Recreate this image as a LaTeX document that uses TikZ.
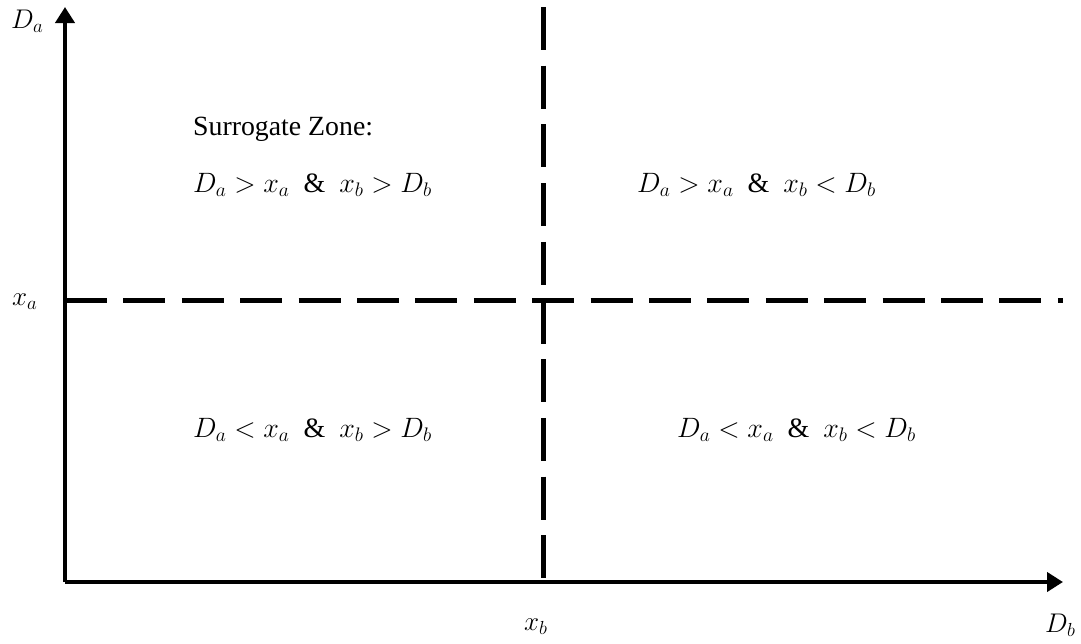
\RequirePackage{fix-cm}
\documentclass[tikz,border=0pt]{standalone}
\usepackage{fontspec}
\setmainfont{Liberation Serif}
\usetikzlibrary{arrows.meta}
\newcommand{\amp}{\ \ \mbox{\&}\ \ }
\begin{document}
\begin{tikzpicture}[x=1pt,y=-1pt,
  axis/.style={line width=4.8pt,-{Triangle[length=16pt,width=19pt]}},
  hdash/.style={line width=5pt,dash pattern=on 42pt off 16.4pt},
  vdash/.style={line width=5pt,dash pattern=on 43pt off 15.7pt},
  lbl/.style={inner sep=0pt,anchor=base west,font=\fontsize{27pt}{31pt}\selectfont},
  zone/.style={inner sep=0pt,anchor=base west,font=\fontsize{28pt}{32pt}\selectfont},
  title/.style={inner sep=0pt,anchor=base west,font=\fontsize{27.8pt}{32pt}\selectfont}]
\useasboundingbox (0,0) rectangle (1081,643);
\coordinate (O) at (65,582);
\coordinate (ytop) at (65,7);
\coordinate (xend) at (1063,582);
\coordinate (hl) at (65,300);
\coordinate (hr) at (1063,300);
\coordinate (vt) at (543,7);
\coordinate (vb) at (543,578);
\draw[hdash] (hl) -- (hr);
\draw[vdash] (vt) -- (vb);
\draw[axis] (O) -- (ytop);
\draw[axis] (O) -- (xend);
\node[lbl] (Da) at (11,28) {$D_a$};
\node[lbl] (xa) at (12,305) {$x_a$};
\node[lbl] (xb) at (524,630) {$x_b$};
\node[lbl] (Db) at (1045,632) {$D_b$};
\node[title] (sz) at (193,135) {Surrogate Zone:};
\node[zone] (tl) at (193,192) {$D_a > x_a\amp x_b > D_b$};
\node[zone] (tr) at (637,192) {$D_a > x_a\amp x_b < D_b$};
\node[zone] (bl) at (193,437) {$D_a < x_a\amp x_b > D_b$};
\node[zone] (br) at (677,437) {$D_a < x_a\amp x_b < D_b$};
\end{tikzpicture}
\end{document}
